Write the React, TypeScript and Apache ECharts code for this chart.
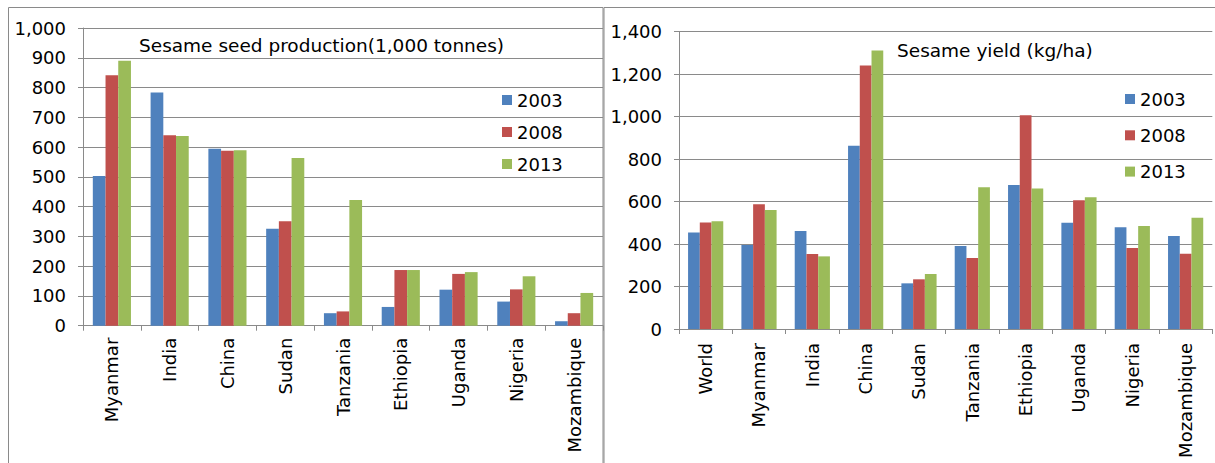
import React, { useEffect, useRef } from "react";
import * as echarts from "echarts";

const prodCategories = ["Myanmar", "India", "China", "Sudan", "Tanzania", "Ethiopia", "Uganda", "Nigeria", "Mozambique"];
const prod2003 = [503, 783, 594, 326, 42, 63, 121, 81, 15];
const prod2008 = [841, 640, 588, 351, 48, 187, 174, 122, 42];
const prod2013 = [890, 637, 589, 563, 422, 187, 180, 166, 110];

const yieldCategories = ["World", "Myanmar", "India", "China", "Sudan", "Tanzania", "Ethiopia", "Uganda", "Nigeria", "Mozambique"];
const yield2003 = [455, 395, 461, 863, 215, 391, 678, 500, 479, 438];
const yield2008 = [502, 587, 353, 1241, 234, 334, 1006, 606, 381, 354];
const yield2013 = [507, 560, 342, 1312, 259, 667, 662, 620, 485, 524];

const years = ["2003", "2008", "2013"];
const colors = ["#4F81BD", "#C0504D", "#9BBB59"];

const FONT = "DejaVu Sans";
const GRAY = "#8a8a8a";

export default function App() {
  const ref = useRef<HTMLDivElement>(null);
  useEffect(() => {
    if (!ref.current) return;
    const chart = echarts.init(ref.current, null, { renderer: "svg" });
    const fmt = (v: number) => v.toLocaleString("en-US");
    const xAxisBase = (data: string[], gridIndex: number, margin: number) => ({
      type: "category",
      gridIndex,
      data,
      boundaryGap: true,
      axisLine: { show: true, lineStyle: { color: GRAY, width: 1 } },
      axisTick: { show: true, length: 5, alignWithLabel: false, lineStyle: { color: GRAY } },
      axisLabel: { rotate: 90, interval: 0, margin, color: "#000", fontFamily: FONT, fontSize: 18 },
      splitLine: { show: false },
    });
    const yAxisBase = (gridIndex: number, max: number, interval: number) => ({
      type: "value",
      gridIndex,
      min: 0,
      max,
      interval,
      axisLine: { show: true, lineStyle: { color: GRAY, width: 1 } },
      axisTick: { show: true, length: 5, lineStyle: { color: GRAY } },
      axisLabel: { margin: 17, color: "#000", fontFamily: FONT, fontSize: 18, formatter: fmt },
      splitLine: { show: true, lineStyle: { color: GRAY, width: 1 } },
    });
    const prodData = [prod2003, prod2008, prod2013];
    const yieldData = [yield2003, yield2008, yield2013];
    const series: any[] = [];
    years.forEach((y, i) => {
      series.push({
        type: "bar",
        name: y,
        xAxisIndex: 0,
        yAxisIndex: 0,
        data: prodData[i],
        barGap: "0%",
        barCategoryGap: "34%",
        itemStyle: { color: colors[i] },
      });
    });
    years.forEach((y, i) => {
      series.push({
        type: "bar",
        name: y,
        xAxisIndex: 1,
        yAxisIndex: 1,
        data: yieldData[i],
        barGap: "0%",
        barCategoryGap: "34%",
        itemStyle: { color: colors[i] },
      });
    });
    const legendBase = {
      orient: "vertical",
      icon: "rect",
      itemWidth: 10,
      itemHeight: 10,
      selectedMode: false,
      textStyle: { color: "#000", fontFamily: FONT, fontSize: 18 },
      data: years,
    };
    chart.setOption({
      animation: false,
      color: colors,
      grid: [
        { left: 83, top: 28, width: 520, height: 297.7, containLabel: false },
        { left: 679, top: 31.7, width: 533.3, height: 297.3, containLabel: false },
      ],
      xAxis: [xAxisBase(prodCategories, 0, 12), xAxisBase(yieldCategories, 1, 14)],
      yAxis: [yAxisBase(0, 1000, 100), yAxisBase(1, 1400, 200)],
      legend: [
        { ...legendBase, left: 497, top: 86, itemGap: 14 },
        { ...legendBase, left: 1120, top: 85, itemGap: 18.3 },
      ],
      series,
      graphic: [
        {
          type: "rect",
          shape: { x: 8.5, y: 7.5, width: 594.5, height: 470 },
          style: { fill: "none", stroke: GRAY, lineWidth: 1 },
          silent: true,
          z: 10,
        },
        {
          type: "rect",
          shape: { x: 604, y: 7.5, width: 620, height: 470 },
          style: { fill: "none", stroke: GRAY, lineWidth: 1 },
          silent: true,
          z: 10,
        },
        {
          type: "text",
          x: 139,
          y: 45.5,
          style: {
            text: "Sesame seed production(1,000 tonnes)",
            fill: "#000",
            font: `18.5px ${FONT}`,
            textVerticalAlign: "middle",
            textAlign: "left",
          },
          z: 10,
        },
        {
          type: "text",
          x: 897,
          y: 50,
          style: {
            text: "Sesame yield (kg/ha)",
            fill: "#000",
            font: `18.5px ${FONT}`,
            textVerticalAlign: "middle",
            textAlign: "left",
          },
          z: 10,
        },
      ],
    });
    return () => chart.dispose();
  }, []);
  return (
    <div
      ref={ref}
      style={{ position: "fixed", left: 0, top: 0, width: 1215, height: 463, background: "#fff" }}
    />
  );
}
